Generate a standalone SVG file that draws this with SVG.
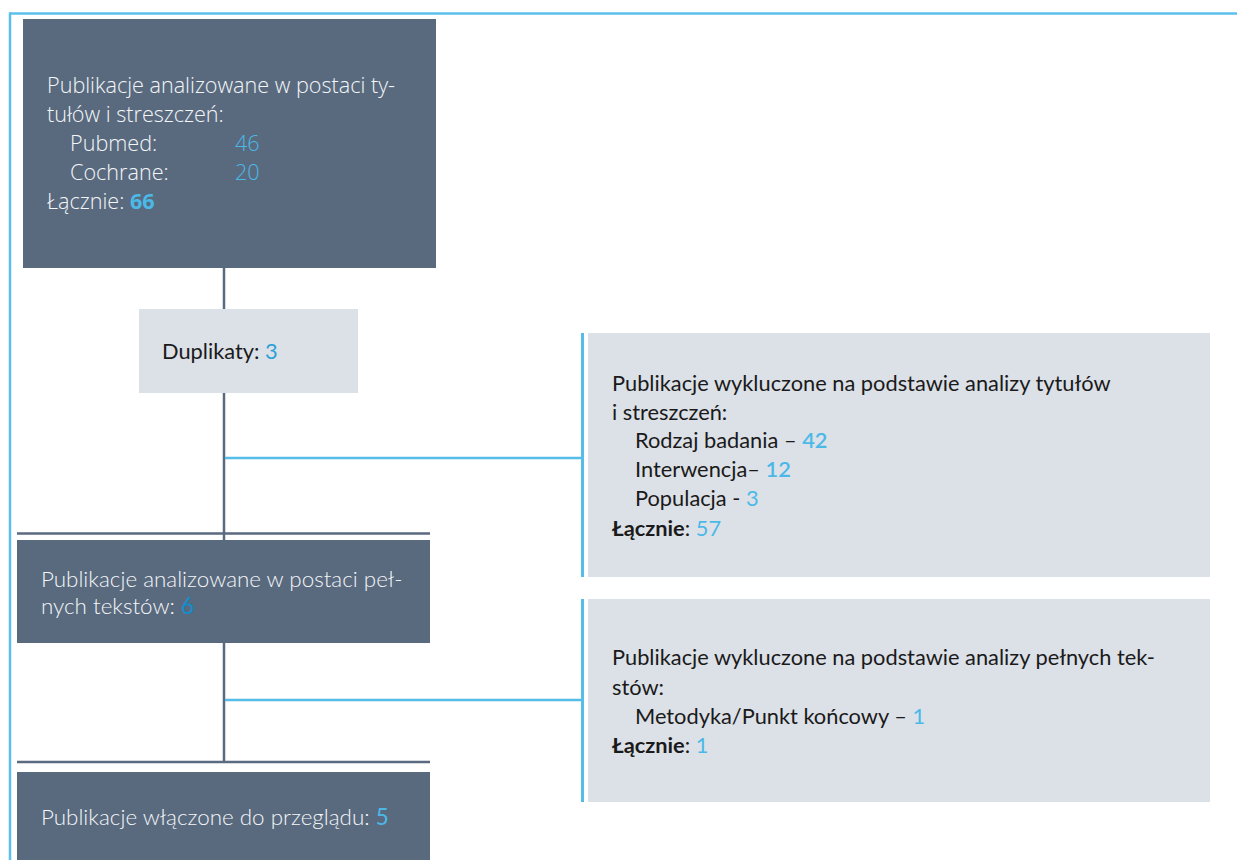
<svg xmlns="http://www.w3.org/2000/svg" width="1237" height="860" viewBox="0 0 1237 860">
<style>
.dark{fill:#596a7f}
.light{fill:#dce0e7}
.frame{stroke:#5cc0ec;stroke-width:2.5;fill:none}
.conn{stroke:#5a6a80;stroke-width:2.5;fill:none}
.bconn{stroke:#55bde8;stroke-width:2.5;fill:none}
.bvert{stroke:#55bde8;stroke-width:3;fill:none}
.t1{font-family:"Open Sans","Liberation Sans",sans-serif;font-weight:300;font-size:21.6px;fill:#f4f6f8}
.tw{font-family:Lato,"Liberation Sans",sans-serif;font-weight:300;font-size:22.4px;fill:#f4f6f8}
.tk{font-family:Lato,"Liberation Sans",sans-serif;font-weight:400;font-size:21.8px;fill:#1a1a1a}
.num{fill:#4bb9e8}
.b{font-weight:700}
.sb{font-weight:600}
</style>
<g id="frame">
<line class="frame" x1="9" y1="13.5" x2="1237" y2="13.5"/>
<line class="frame" x1="10" y1="12.5" x2="10" y2="860"/>
</g>
<g id="connectors">
<line class="conn" x1="224" y1="268" x2="224" y2="309"/>
<line class="conn" x1="224" y1="393" x2="224" y2="540"/>
<line class="conn" x1="17" y1="533.5" x2="430" y2="533.5"/>
<line class="bconn" x1="225" y1="458" x2="584" y2="458"/>
<line class="bvert" x1="582.5" y1="333" x2="582.5" y2="577"/>
<line class="conn" x1="224" y1="643" x2="224" y2="762"/>
<line class="conn" x1="17" y1="762" x2="430" y2="762"/>
<line class="bconn" x1="225" y1="700" x2="584" y2="700"/>
<line class="bvert" x1="582.5" y1="599" x2="582.5" y2="802"/>
</g>
<g id="node-titles">
<rect class="dark" x="23" y="19" width="413" height="249"/>
<text class="t1"><tspan x="47" y="93">Publikacje analizowane w postaci ty-</tspan><tspan x="47" y="122">tułów i streszczeń:</tspan><tspan x="70" y="151">Pubmed:</tspan><tspan x="235" y="151" class="num">46</tspan><tspan x="70" y="180">Cochrane:</tspan><tspan x="235" y="180" class="num">20</tspan><tspan x="47" y="209">Łącznie: </tspan><tspan class="num" font-weight="700">66</tspan></text>
</g>
<g id="node-duplicates">
<rect class="light" x="139" y="309" width="219" height="84"/>
<text class="tk"><tspan x="162" y="359">Duplikaty: </tspan><tspan fill="#2aa0d8">3</tspan></text>
</g>
<g id="node-excluded-titles">
<rect class="light" x="588" y="333" width="622" height="244"/>
<text class="tk"><tspan x="612" y="391">Publikacje wykluczone na podstawie analizy tytułów</tspan><tspan x="612" y="420">i streszczeń:</tspan><tspan x="635" y="448">Rodzaj badania – </tspan><tspan class="num sb">42</tspan><tspan x="635" y="477">Interwencja– </tspan><tspan class="num sb">12</tspan><tspan x="635" y="506">Populacja - </tspan><tspan class="num">3</tspan><tspan x="612" y="536" class="b">Łącznie</tspan><tspan>: </tspan><tspan class="num">57</tspan></text>
</g>
<g id="node-fulltext">
<rect class="dark" x="17" y="540" width="413" height="103"/>
<text class="tw"><tspan x="41" y="587">Publikacje analizowane w postaci peł-</tspan><tspan x="41" y="614">nych tekstów: </tspan><tspan fill="#0f8fcf" font-weight="400">6</tspan></text>
</g>
<g id="node-excluded-fulltext">
<rect class="light" x="588" y="599" width="622" height="203"/>
<text class="tk" font-size="22px"><tspan x="612" y="665">Publikacje wykluczone na podstawie analizy pełnych tek-</tspan><tspan x="612" y="695">stów:</tspan><tspan x="635" y="724">Metodyka/Punkt końcowy – </tspan><tspan class="num">1</tspan><tspan x="612" y="753" class="b">Łącznie</tspan><tspan>: </tspan><tspan class="num">1</tspan></text>
</g>
<g id="node-included">
<rect class="dark" x="17" y="772" width="413" height="88"/>
<text class="tw"><tspan x="41" y="825">Publikacje włączone do przeglądu: </tspan><tspan class="num" font-weight="400">5</tspan></text>
</g>
</svg>
